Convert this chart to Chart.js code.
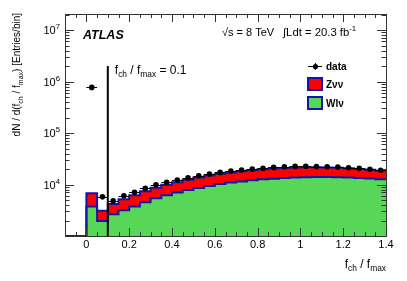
<!DOCTYPE html>
<html>
<head>
<meta charset="utf-8">
<script src="https://cdn.jsdelivr.net/npm/chart.js@4.4.0/dist/chart.umd.min.js"></script>
<style>
html, body { margin: 0; padding: 0; background: #fff; }
canvas { display: block; }
</style>
</head>
<body>
<canvas id="fchChart" width="407" height="281"></canvas>
<script>
// bin edges in f_ch / f_max (0.05 wide bins)
const binEdges = [-0.1, -0.05, 0, 0.05, 0.1, 0.15, 0.2, 0.25, 0.3, 0.35, 0.4, 0.45, 0.5, 0.55, 0.6, 0.65,
    0.7, 0.75, 0.8, 0.85, 0.9, 0.95, 1, 1.05, 1.1, 1.15, 1.2, 1.25, 1.3, 1.35, 1.4];

// W -> l nu  (bottom of the stack)
const wlnu = [0, 0, 3740, 1950, 2650, 3150, 3750, 4500, 5400, 6200, 7000, 7800, 8600, 9400, 10200, 10900,
    11500, 12100, 12600, 13000, 13400, 13700, 13900, 14000, 14000, 13900, 13700, 13400, 13100, 12700];

// Z -> nu nu  (on top of W)
const znunu = [0, 0, 3010, 1150, 1550, 2050, 2450, 2900, 3300, 3700, 4100, 4600, 5100, 5500, 5900, 6300,
    6600, 6900, 7100, 7400, 7600, 7700, 7700, 7600, 7400, 7200, 6900, 6600, 6200, 5800];

// data, entries per bin
const dataVals = [null, null, 770000, 5800, 4800, 6050, 7050, 8400, 9900, 11000, 12200, 13500, 14800, 16000, 17200, 18300,
    19100, 20000, 20600, 21500, 22100, 22500, 22600, 22300, 22100, 21800, 21200, 20600, 19700, 18900];

const xTicks = [0, 0.2, 0.4, 0.6, 0.8, 1, 1.2, 1.4];
const yTicks = [1e4, 1e5, 1e6, 1e7];
const xRange = [-0.1, 1.4];
const yRange = [1000, 2.05e7];

// cut line at f_ch / f_max = 0.1
const cutX = 0.1;
const cutTop = 2.0e6;

const GREEN = '#57d657';
const RED = '#ff0000';
const BLUE = '#1414a8';
const FONT = '"Liberation Sans", Arial, Helvetica, sans-serif';

// empty bins sit on the floor of the log axis
function floorLog(v) {
    return v > 0 ? v : yRange[0];
}

function stepPoints(vals) {
    const pts = vals.map((v, i) => ({ x: binEdges[i], y: floorLog(v) }));
    pts.push({ x: binEdges[binEdges.length - 1], y: floorLog(vals[vals.length - 1]) });
    return pts;
}

const stackTotal = wlnu.map((w, i) => w + znunu[i]);
const dataPts = [];
dataVals.forEach((v, i) => {
    if (v !== null) dataPts.push({ x: (binEdges[i] + binEdges[i + 1]) / 2, y: v, lo: binEdges[i], hi: binEdges[i + 1] });
});

// text with sub/superscripts: parts = [[text, shift]], shift -1 sub, 1 sup
function richWidth(ctx, parts, size, weight) {
    let w = 0;
    parts.forEach(([t, s]) => {
        ctx.font = (weight || '') + ' ' + (s ? size * 0.7 : size) + 'px ' + FONT;
        w += ctx.measureText(t).width;
    });
    return w;
}

function drawRich(ctx, parts, x, y, size, align, weight) {
    const total = richWidth(ctx, parts, size, weight);
    let cx = align === 'right' ? x - total : (align === 'center' ? x - total / 2 : x);
    ctx.textAlign = 'left';
    ctx.textBaseline = 'alphabetic';
    parts.forEach(([t, s]) => {
        const sz = s ? size * 0.7 : size;
        ctx.font = (weight || '') + ' ' + sz + 'px ' + FONT;
        const dy = s === 1 ? -size * 0.42 : (s === -1 ? size * 0.28 : 0);
        ctx.fillText(t, cx, y + dy);
        cx += ctx.measureText(t).width;
    });
}

const rootStyle = {
    id: 'rootStyle',
    beforeDatasetDraw(chart, args) {
        // horizontal error bars of the data, under the markers
        if (args.index !== 0) return;
        const ctx = chart.ctx;
        const xs = chart.scales.x, ys = chart.scales.y;
        ctx.save();
        ctx.strokeStyle = '#000';
        ctx.lineWidth = 1;
        dataPts.forEach(p => {
            const py = Math.round(ys.getPixelForValue(p.y)) + 0.5;
            ctx.beginPath();
            ctx.moveTo(xs.getPixelForValue(p.lo), py);
            ctx.lineTo(xs.getPixelForValue(p.hi), py);
            ctx.stroke();
        });
        ctx.restore();
    },
    afterDraw(chart) {
        const ctx = chart.ctx;
        const a = chart.chartArea;
        const xs = chart.scales.x, ys = chart.scales.y;
        ctx.save();

        // frame
        ctx.strokeStyle = '#333';
        ctx.lineWidth = 1;
        ctx.strokeRect(Math.round(a.left) + 0.5, Math.round(a.top) + 0.5,
            Math.round(a.right - a.left), Math.round(a.bottom - a.top));

        // x ticks (inside the frame, bottom and top)
        ctx.beginPath();
        for (let i = 0; i <= 30; i++) {
            const v = xRange[0] + i * 0.05;
            const px = Math.round(xs.getPixelForValue(v)) + 0.5;
            const major = xTicks.some(t => Math.abs(t - v) < 1e-6);
            const len = major ? 8 : 4;
            ctx.moveTo(px, a.bottom);
            ctx.lineTo(px, a.bottom - len);
            ctx.moveTo(px, a.top);
            ctx.lineTo(px, a.top + len);
        }
        // y ticks, log scale
        for (let k = 3; k <= 7; k++) {
            for (let m = 1; m <= 9; m++) {
                const v = m * Math.pow(10, k);
                if (v < yRange[0] || v > yRange[1]) continue;
                const py = Math.round(ys.getPixelForValue(v)) + 0.5;
                const len = m === 1 ? 9 : 4.5;
                ctx.moveTo(a.left, py);
                ctx.lineTo(a.left + len, py);
                ctx.moveTo(a.right, py);
                ctx.lineTo(a.right - len, py);
            }
        }
        ctx.stroke();

        ctx.fillStyle = '#000';
        // x tick labels
        ctx.font = '11px ' + FONT;
        ctx.textAlign = 'center';
        ctx.textBaseline = 'middle';
        xTicks.forEach(t => {
            ctx.fillText(String(t), xs.getPixelForValue(t), a.bottom + 9);
        });
        // y tick labels 10^n
        yTicks.forEach(t => {
            const py = ys.getPixelForValue(t);
            drawRich(ctx, [['10', 0], [String(Math.round(Math.log10(t))), 1]], a.left - 5, py + 4, 11, 'right');
        });

        // axis titles
        drawRich(ctx, [['f', 0], ['ch', -1], [' / f', 0], ['max', -1]], a.right, 268, 12, 'right');
        ctx.save();
        ctx.translate(20, a.top - 1);
        ctx.rotate(-Math.PI / 2);
        drawRich(ctx, [['dN / d(f', 0], ['ch', -1], [' / f', 0], ['max', -1], [') [Entries/bin]', 0]], 0, 0, 10, 'right');
        ctx.restore();

        // labels
        ctx.font = 'italic bold 12.5px ' + FONT;
        ctx.textAlign = 'left';
        ctx.textBaseline = 'alphabetic';
        ctx.fillText('ATLAS', 83, 39);
        drawRich(ctx, [['\u221As = 8 TeV', 0]], 222, 36, 11, 'left');
        drawRich(ctx, [['\u222BLdt = 20.3 fb', 0], ['-1', 1]], 283, 36, 11.3, 'left');
        drawRich(ctx, [['f', 0], ['ch', -1], [' / f', 0], ['max', -1], [' = 0.1', 0]],
            xs.getPixelForValue(cutX) + 7, 74, 12, 'left');

        // legend
        const lx = 308, lw = 14;
        ctx.strokeStyle = '#000';
        ctx.lineWidth = 1;
        ctx.beginPath();
        ctx.moveTo(lx, 66.5);
        ctx.lineTo(lx + lw, 66.5);
        ctx.moveTo(lx + lw / 2 + 0.5, 63);
        ctx.lineTo(lx + lw / 2 + 0.5, 70);
        ctx.stroke();
        ctx.beginPath();
        ctx.arc(lx + lw / 2 + 0.5, 66.5, 2.6, 0, Math.PI * 2);
        ctx.fill();
        [[RED, 78, [['Z', 0], ['\u03BD\u03BD', 0]]], [GREEN, 97, [['Wl\u03BD', 0]]]].forEach(([col, top, parts]) => {
            ctx.fillStyle = col;
            ctx.fillRect(lx, top, lw, 12);
            ctx.strokeStyle = BLUE;
            ctx.lineWidth = 2;
            ctx.strokeRect(lx, top, lw, 12);
            ctx.fillStyle = '#000';
            drawRich(ctx, parts, lx + 18, top + 10, 10, 'left', 'bold');
        });
        ctx.fillStyle = '#000';
        drawRich(ctx, [['data', 0]], lx + 18, 70, 10, 'left', 'bold');

        ctx.restore();
    }
};

new Chart(document.getElementById('fchChart'), {
    type: 'line',
    data: {
        datasets: [
            {
                label: 'data',
                data: dataPts,
                showLine: false,
                pointRadius: 2.8,
                pointBackgroundColor: '#000',
                pointBorderColor: '#000',
                pointBorderWidth: 0
            },
            {
                label: 'cut',
                data: [{ x: cutX, y: yRange[0] }, { x: cutX, y: cutTop }],
                borderColor: '#000',
                borderWidth: 2,
                pointRadius: 0,
                fill: false
            },
            {
                label: 'Z\u03BD\u03BD',
                data: stepPoints(stackTotal),
                stepped: true,
                borderColor: BLUE,
                borderWidth: 2,
                pointRadius: 0,
                backgroundColor: RED,
                fill: 3
            },
            {
                label: 'Wl\u03BD',
                data: stepPoints(wlnu),
                stepped: true,
                borderColor: BLUE,
                borderWidth: 2,
                pointRadius: 0,
                backgroundColor: GREEN,
                fill: 'start'
            }
        ]
    },
    options: {
        responsive: false,
        animation: false,
        layout: { padding: { left: 65, right: 21, top: 14, bottom: 45 } },
        plugins: {
            legend: { display: false },
            tooltip: { enabled: false },
            filler: { drawTime: 'beforeDatasetsDraw' }
        },
        scales: {
            x: { type: 'linear', display: false, min: xRange[0], max: xRange[1] },
            y: { type: 'logarithmic', display: false, min: yRange[0], max: yRange[1] }
        }
    },
    plugins: [rootStyle]
});
</script>
</body>
</html>
